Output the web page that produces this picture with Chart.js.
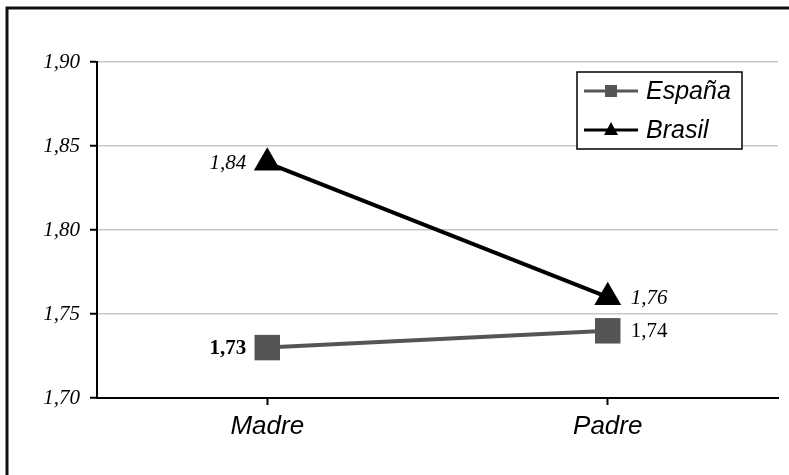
<!DOCTYPE html>
<html>
<head>
<meta charset="utf-8">
<script src="https://cdn.jsdelivr.net/npm/chart.js@4"></script>
<style>
    html, body { margin: 0; padding: 0; background: #fff; }
    #wrap { width: 789px; height: 475px; }
</style>
</head>
<body>
<div id="wrap"><canvas id="chart" width="789" height="475"></canvas></div>
<script>
const categories = ["Madre", "Padre"];
const espana = [1.73, 1.74];
const brasil = [1.84, 1.76];
const yTicks = [1.70, 1.75, 1.80, 1.85, 1.90];

// label fonts per point, as in the original figure
const espanaLabelFont = ["bold 21px 'Liberation Serif'", "21px 'Liberation Serif'"];
const brasilLabelFont = ["italic 21px 'Liberation Serif'", "italic 21px 'Liberation Serif'"];

const fmt = v => v.toFixed(2).replace(".", ",");

const frame = {
    id: "frame",
    beforeDraw(c) {
        const ctx = c.ctx;
        ctx.save();
        ctx.fillStyle = "#fff";
        ctx.fillRect(0, 0, c.width, c.height);
        ctx.strokeStyle = "#111";
        ctx.lineWidth = 3;
        ctx.beginPath();
        ctx.moveTo(7, 475);
        ctx.lineTo(7, 8);
        ctx.lineTo(789, 8);
        ctx.stroke();
        ctx.restore();
    }
};

const pointLabels = {
    id: "pointLabels",
    afterDatasetsDraw(c) {
        const ctx = c.ctx;
        ctx.save();
        ctx.fillStyle = "#000";
        ctx.textBaseline = "middle";
        const fonts = [espanaLabelFont, brasilLabelFont];
        c.data.datasets.forEach((ds, i) => {
            c.getDatasetMeta(i).data.forEach((pt, j) => {
                ctx.font = fonts[i][j];
                if (j === 0) {
                    ctx.textAlign = "right";
                    ctx.fillText(fmt(ds.data[j]), pt.x - 21, pt.y + 1);
                } else {
                    ctx.textAlign = "left";
                    ctx.fillText(fmt(ds.data[j]), pt.x + 23, pt.y + 1);
                }
            });
        });
        ctx.restore();
    }
};

const boxLegend = {
    id: "boxLegend",
    afterDraw(c) {
        const ctx = c.ctx;
        ctx.save();
        ctx.fillStyle = "#fff";
        ctx.fillRect(577, 72, 165, 77);
        ctx.strokeStyle = "#000";
        ctx.lineWidth = 1.5;
        ctx.strokeRect(577, 72, 165, 77);
        const rows = [91, 130];
        c.data.datasets.forEach((ds, i) => {
            const y = rows[i];
            ctx.strokeStyle = ds.borderColor;
            ctx.lineWidth = 3;
            ctx.beginPath();
            ctx.moveTo(584, y);
            ctx.lineTo(638, y);
            ctx.stroke();
            ctx.fillStyle = ds.backgroundColor;
            ctx.beginPath();
            if (ds.pointStyle === "rect") {
                ctx.rect(605, y - 6, 12, 12);
            } else {
                ctx.moveTo(611, y - 8);
                ctx.lineTo(618, y + 5);
                ctx.lineTo(604, y + 5);
                ctx.closePath();
            }
            ctx.fill();
            ctx.fillStyle = "#000";
            ctx.font = "italic 25px 'Liberation Sans'";
            ctx.textAlign = "left";
            ctx.textBaseline = "middle";
            ctx.fillText(ds.label, 646, y + 1);
        });
        ctx.restore();
    }
};

new Chart(document.getElementById("chart"), {
    type: "line",
    data: {
        labels: categories,
        datasets: [
            {
                label: "España",
                data: espana,
                borderColor: "#555555",
                backgroundColor: "#555555",
                borderWidth: 4,
                pointStyle: "rect",
                pointRadius: 18,
                pointBorderWidth: 0
            },
            {
                label: "Brasil",
                data: brasil,
                borderColor: "#000000",
                backgroundColor: "#000000",
                borderWidth: 4,
                pointStyle: "triangle",
                pointRadius: 15.5,
                pointBorderWidth: 0
            }
        ]
    },
    options: {
        responsive: false,
        animation: false,
        layout: { autoPadding: false, padding: { left: 0, top: 62, right: 11, bottom: 0 } },
        plugins: {
            legend: { display: false },
            tooltip: { enabled: false }
        },
        scales: {
            x: {
                offset: true,
                afterFit: s => {
                    s.height = 77;
                    s.paddingLeft = 0;
                    s.paddingRight = 0;
                },
                grid: {
                    drawOnChartArea: false,
                    tickColor: "#000",
                    tickWidth: 2,
                    tickLength: 7
                },
                border: { color: "#000", width: 2 },
                ticks: {
                    color: "#000",
                    padding: 6,
                    font: { family: "'Liberation Sans'", size: 26, style: "italic" }
                }
            },
            y: {
                min: 1.70,
                max: 1.90,
                afterFit: s => {
                    s.width = 97;
                    s.paddingTop = 0;
                    s.paddingBottom = 0;
                },
                afterBuildTicks: s => { s.ticks = yTicks.map(v => ({ value: v })); },
                grid: {
                    color: "#c8c8c8",
                    lineWidth: 1.5,
                    tickColor: "#000",
                    tickWidth: 2,
                    tickLength: 7
                },
                border: { color: "#000", width: 2 },
                ticks: {
                    color: "#000",
                    padding: 10,
                    font: { family: "'Liberation Serif'", size: 21, style: "italic" },
                    callback: v => fmt(v)
                }
            }
        }
    },
    plugins: [frame, pointLabels, boxLegend]
});
</script>
</body>
</html>
